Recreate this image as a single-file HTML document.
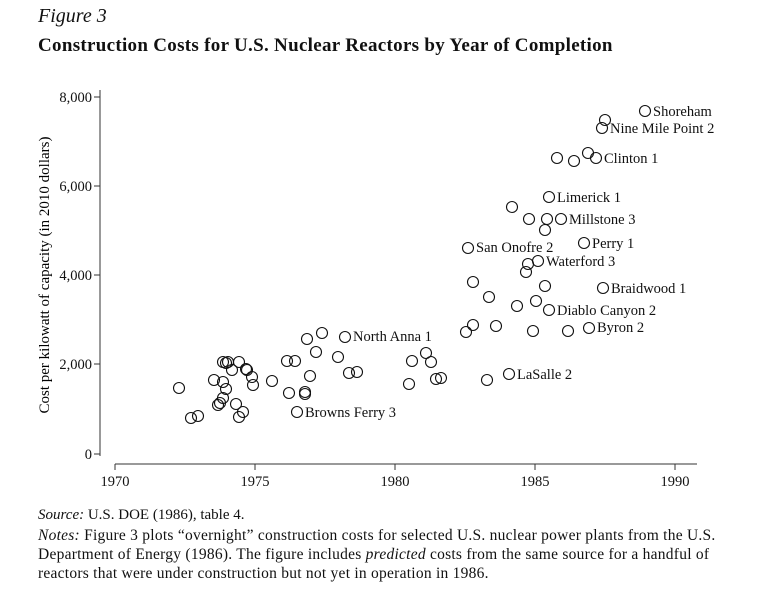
<!DOCTYPE html>
<html><head><style>
body{margin:0;background:#fff;width:763px;height:590px;overflow:hidden;font-family:"Liberation Serif",serif;color:#111}
.t{position:absolute;white-space:nowrap}
</style></head><body>
<div class="t" style="left:38px;top:5px;font-size:20px;font-style:italic">Figure 3</div>
<div class="t" style="left:38px;top:35px;font-size:19px;font-weight:bold;letter-spacing:0.3px">Construction Costs for U.S. Nuclear Reactors by Year of Completion</div>
<svg width="763" height="590" style="position:absolute;left:0;top:0" font-family="Liberation Serif,serif">
<g stroke="#333" stroke-width="1" fill="none">
<line x1="100" y1="90" x2="100" y2="456"/>
<line x1="94" y1="97" x2="100" y2="97"/><line x1="94" y1="186" x2="100" y2="186"/><line x1="94" y1="275" x2="100" y2="275"/><line x1="94" y1="364" x2="100" y2="364"/><line x1="94" y1="454" x2="100" y2="454"/>
<line x1="115" y1="464" x2="697" y2="464"/>
<line x1="115" y1="464" x2="115" y2="470"/><line x1="255" y1="464" x2="255" y2="470"/><line x1="395" y1="464" x2="395" y2="470"/><line x1="535" y1="464" x2="535" y2="470"/><line x1="675" y1="464" x2="675" y2="470"/>
</g>
<g font-size="14.5" text-anchor="end" fill="#111">
<text x="92" y="102">8,000</text><text x="92" y="191">6,000</text><text x="92" y="280">4,000</text><text x="92" y="369">2,000</text><text x="92" y="459">0</text>
</g>
<g font-size="14.5" text-anchor="middle" fill="#111">
<text x="115" y="486">1970</text><text x="255" y="486">1975</text><text x="395" y="486">1980</text><text x="535" y="486">1985</text><text x="675" y="486">1990</text>
</g>
<text transform="translate(49,275) rotate(-90)" font-size="15" text-anchor="middle">Cost per kilowatt of capacity (in 2010 dollars)</text>
<g stroke="#111" stroke-width="1.1" fill="none">
<circle cx="179" cy="388" r="5.5"/><circle cx="191" cy="418" r="5.5"/><circle cx="198" cy="416" r="5.5"/>
<circle cx="214" cy="380" r="5.5"/><circle cx="223" cy="382" r="5.5"/><circle cx="226" cy="389" r="5.5"/>
<circle cx="223" cy="362" r="5.5"/><circle cx="226" cy="363" r="5.5"/><circle cx="228" cy="362" r="5.5"/>
<circle cx="239" cy="362" r="5.5"/><circle cx="232" cy="370" r="5.5"/><circle cx="246" cy="369" r="5.5"/><circle cx="247" cy="370" r="5.5"/>
<circle cx="252" cy="377" r="5.5"/><circle cx="253" cy="385" r="5.5"/>
<circle cx="223" cy="398" r="5.5"/><circle cx="220" cy="403" r="5.5"/><circle cx="218" cy="405" r="5.5"/>
<circle cx="236" cy="404" r="5.5"/><circle cx="243" cy="412" r="5.5"/><circle cx="239" cy="417" r="5.5"/>
<circle cx="272" cy="381" r="5.5"/><circle cx="287" cy="361" r="5.5"/><circle cx="295" cy="361" r="5.5"/>
<circle cx="307" cy="339" r="5.5"/><circle cx="322" cy="333" r="5.5"/><circle cx="316" cy="352" r="5.5"/>
<circle cx="310" cy="376" r="5.5"/><circle cx="289" cy="393" r="5.5"/><circle cx="305" cy="392" r="5.5"/><circle cx="305" cy="394" r="5.5"/>
<circle cx="297" cy="412" r="5.5"/><circle cx="338" cy="357" r="5.5"/><circle cx="345" cy="337" r="5.5"/>
<circle cx="349" cy="373" r="5.5"/><circle cx="357" cy="372" r="5.5"/>
<circle cx="409" cy="384" r="5.5"/><circle cx="412" cy="361" r="5.5"/><circle cx="426" cy="353" r="5.5"/><circle cx="431" cy="362" r="5.5"/>
<circle cx="436" cy="379" r="5.5"/><circle cx="441" cy="378" r="5.5"/>
<circle cx="549" cy="197" r="5.5"/><circle cx="512" cy="207" r="5.5"/>
<circle cx="529" cy="219" r="5.5"/><circle cx="547" cy="219" r="5.5"/><circle cx="561" cy="219" r="5.5"/><circle cx="545" cy="230" r="5.5"/>
<circle cx="468" cy="248" r="5.5"/><circle cx="584" cy="243" r="5.5"/>
<circle cx="538" cy="261" r="5.5"/><circle cx="528" cy="264" r="5.5"/><circle cx="526" cy="272" r="5.5"/>
<circle cx="473" cy="282" r="5.5"/><circle cx="545" cy="286" r="5.5"/><circle cx="603" cy="288" r="5.5"/>
<circle cx="489" cy="297" r="5.5"/><circle cx="536" cy="301" r="5.5"/><circle cx="517" cy="306" r="5.5"/><circle cx="549" cy="310" r="5.5"/>
<circle cx="473" cy="325" r="5.5"/><circle cx="466" cy="332" r="5.5"/><circle cx="496" cy="326" r="5.5"/><circle cx="533" cy="331" r="5.5"/><circle cx="568" cy="331" r="5.5"/><circle cx="589" cy="328" r="5.5"/>
<circle cx="509" cy="374" r="5.5"/><circle cx="487" cy="380" r="5.5"/>
<circle cx="645" cy="111" r="5.5"/><circle cx="605" cy="120" r="5.5"/><circle cx="602" cy="128" r="5.5"/>
<circle cx="557" cy="158" r="5.5"/><circle cx="574" cy="161" r="5.5"/><circle cx="588" cy="153" r="5.5"/><circle cx="596" cy="158" r="5.5"/>
</g>
<g font-size="14.5" fill="#111">
<text x="653" y="116">Shoreham</text><text x="610" y="133">Nine Mile Point 2</text><text x="604" y="163">Clinton 1</text>
<text x="557" y="202">Limerick 1</text><text x="569" y="224">Millstone 3</text><text x="476" y="252">San Onofre 2</text>
<text x="592" y="248">Perry 1</text><text x="546" y="266">Waterford 3</text><text x="611" y="293">Braidwood 1</text>
<text x="557" y="315">Diablo Canyon 2</text><text x="597" y="332">Byron 2</text><text x="517" y="379">LaSalle 2</text>
<text x="353" y="341">North Anna 1</text><text x="305" y="417">Browns Ferry 3</text>
</g>
</svg>
<div class="t" style="left:38px;top:507px;font-size:15px"><i>Source:</i> U.S. DOE (1986), table 4.</div>
<div class="t" style="left:38px;top:526px;font-size:15.5px;line-height:19px;letter-spacing:0.25px"><i>Notes:</i> Figure 3 plots “overnight” construction costs for selected U.S. nuclear power plants from the U.S.<br>Department of Energy (1986). The figure includes <i>predicted</i> costs from the same source for a handful of<br>reactors that were under construction but not yet in operation in 1986.</div>
</body></html>
